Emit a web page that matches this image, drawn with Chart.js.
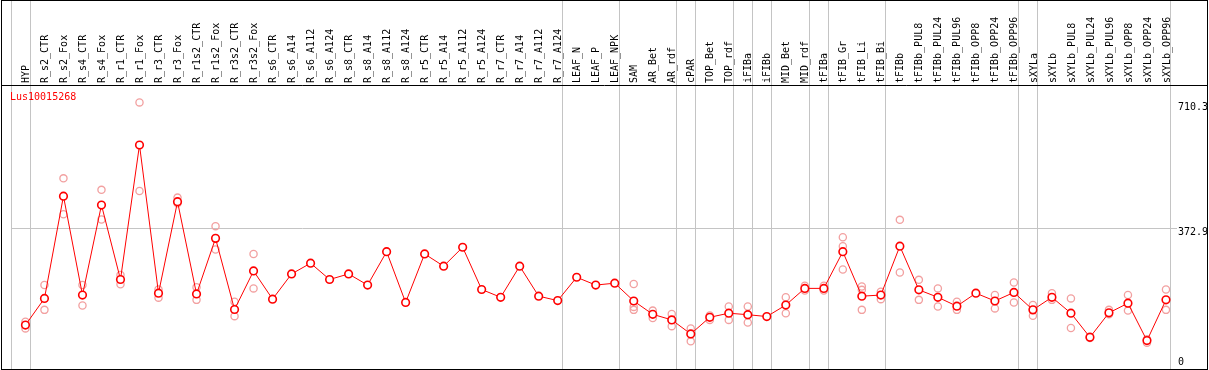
<!DOCTYPE html>
<html>
<head>
<meta charset="utf-8">
<script src="https://cdn.jsdelivr.net/npm/chart.js@4.4.1/dist/chart.umd.min.js"></script>
<style>
  html, body { margin: 0; padding: 0; background: #fff; }
  #chart { display: block; }
</style>
</head>
<body>
<canvas id="chart" width="1209" height="370"></canvas>
<script>
const geneName = 'Lus10015268';

const samples = [
    'HYP', 'R_s2_CTR', 'R_s2_Fox', 'R_s4_CTR', 'R_s4_Fox', 'R_r1_CTR', 'R_r1_Fox', 'R_r3_CTR', 'R_r3_Fox',
    'R_r1s2_CTR', 'R_r1s2_Fox', 'R_r3s2_CTR', 'R_r3s2_Fox', 'R_s6_CTR', 'R_s6_A14', 'R_s6_A112', 'R_s6_A124',
    'R_s8_CTR', 'R_s8_A14', 'R_s8_A112', 'R_s8_A124', 'R_r5_CTR', 'R_r5_A14', 'R_r5_A112', 'R_r5_A124',
    'R_r7_CTR', 'R_r7_A14', 'R_r7_A112', 'R_r7_A124', 'LEAF_N', 'LEAF_P', 'LEAF_NPK', 'SAM', 'AR_Bet', 'AR_rdf',
    'cPAR', 'TOP_Bet', 'TOP_rdf', 'iFIBa', 'iFIBb', 'MID_Bet', 'MID_rdf', 'tFIBa', 'tFIB_Gr', 'tFIB_Li', 'tFIB_Bi',
    'tFIBb', 'tFIBb_PUL8', 'tFIBb_PUL24', 'tFIBb_PUL96', 'tFIBb_OPP8', 'tFIBb_OPP24', 'tFIBb_OPP96',
    'sXYLa', 'sXYLb', 'sXYLb_PUL8', 'sXYLb_PUL24', 'sXYLb_PUL96', 'sXYLb_OPP8', 'sXYLb_OPP24', 'sXYLb_OPP96'
];

// mean expression per sample
const meanValues = [
    111, 183, 459, 192, 435, 234, 597, 197, 444, 195, 345, 153, 257, 181, 249, 278, 234,
    249, 219, 309, 172, 303, 270, 321, 207, 186, 270, 189, 177, 240, 219, 224, 176, 140, 125,
    87, 132, 143, 139, 134, 165, 210, 210, 309, 189, 192, 324, 206, 186, 162, 197, 176, 199,
    152, 186, 143, 78, 144, 170, 69, 179
];

// replicates (null = hidden behind the mean)
const repA = [
    120, 219, 507, 219, 476, 246, 712, 207, 455, 213, 378, 174, 303, null, null, null, null,
    null, null, null, null, null, null, null, null, null, null, null, null, null, null, null, 222, 150, 141,
    102, 137, 161, 161, null, 186, 217, 217, 348, 215, 201, 395, 233, 210, 174, null, 192, 226,
    165, 197, 183, 80, 152, 192, 73, 207
];
const repB = [
    102, 152, 410, 164, 396, 221, 473, 185, 440, 179, 315, 135, 210, null, null, null, null,
    null, null, null, null, null, null, null, null, null, null, null, null, null, null, null, 160, 130, 108,
    67, 125, 125, 118, null, 143, 204, 204, 324, 206, 181, 253, 179, 161, 152, null, 156, 172,
    136, 179, 103, 76, 140, 150, 63, 152
];
const repC = [
    null, null, null, null, null, null, null, null, null, null, null, null, null, null, null, null, null,
    null, null, null, null, null, null, null, null, null, null, null, null, null, null, null, 152, null, null,
    null, null, null, null, null, null, null, null, 261, 152, null, null, null, null, null, null, null, null,
    null, null, null, null, null, null, null, null
];

const yTicks = [0, 372.9, 710.3];
// grey separator drawn just after these sample indices
const groupEnds = [-1, 0, 28, 31, 34, 35, 37, 38, 39, 41, 42, 45, 52, 53, 60];

const monoFont = { family: '"DejaVu Sans Mono", monospace', size: 10 };
const sepValues = groupEnds.map(g => g + 0.24);

function toPoints(values) {
    return values.map((v, i) => ({ x: i, y: v }));
}

function repDataset(values) {
    return {
        data: toPoints(values),
        showLine: false,
        pointStyle: 'circle',
        pointRadius: 3.6,
        pointBorderWidth: 1.3,
        pointBorderColor: '#f2a0a0',
        pointBackgroundColor: 'rgba(0,0,0,0)',
        order: 2
    };
}

//frame, header line and gene name
const framePlugin = {
    id: 'frame',
    afterDraw(chart) {
        const ctx = chart.ctx;
        ctx.save();
        ctx.strokeStyle = '#000';
        ctx.lineWidth = 1;
        ctx.strokeRect(1.5, 0.5, 1206, 369);
        ctx.beginPath();
        ctx.moveTo(1, 85.5);
        ctx.lineTo(1208, 85.5);
        ctx.stroke();
        ctx.fillStyle = '#ff0000';
        ctx.font = '10px "DejaVu Sans Mono", monospace';
        ctx.textBaseline = 'middle';
        ctx.fillText(geneName, 10, 97.5);
        ctx.restore();
    }
};

new Chart(document.getElementById('chart'), {
    type: 'scatter',
    data: {
        datasets: [
            {
                data: toPoints(meanValues),
                showLine: true,
                borderColor: '#ff0000',
                borderWidth: 1,
                pointStyle: 'circle',
                pointRadius: 3.8,
                pointBorderWidth: 1.6,
                pointBorderColor: '#ff0000',
                pointBackgroundColor: '#ffffff',
                order: 0
            },
            repDataset(repA),
            repDataset(repB),
            repDataset(repC)
        ]
    },
    options: {
        responsive: false,
        animation: false,
        layout: { autoPadding: false, padding: { left: 11, right: 2, top: 0, bottom: 1 } },
        plugins: {
            legend: { display: false },
            tooltip: { enabled: false }
        },
        scales: {
            x: {
                type: 'linear',
                position: 'top',
                min: -0.76,
                max: 60.58,
                afterBuildTicks: axis => {
                    const vals = samples.map((s, i) => i).concat(sepValues).sort((a, b) => a - b);
                    axis.ticks = vals.map(v => ({ value: v }));
                },
                afterFit: axis => {
                    axis.height = 85;
                    axis.paddingLeft = 0;
                    axis.paddingRight = 0;
                },
                grid: {
                    color: ctx => (ctx.tick && !Number.isInteger(ctx.tick.value)) ? '#c4c4c4' : 'rgba(0,0,0,0)',
                    lineWidth: 1,
                    tickLength: 85
                },
                border: { display: false },
                ticks: {
                    autoSkip: false,
                    minRotation: 90,
                    maxRotation: 90,
                    padding: -83,
                    labelOffset: 13,
                    color: '#000',
                    font: monoFont,
                    callback: v => Number.isInteger(v) ? samples[v] : ''
                }
            },
            y: {
                type: 'linear',
                position: 'right',
                min: -7.6,
                max: 759,
                afterBuildTicks: axis => { axis.ticks = yTicks.map(v => ({ value: v })); },
                afterFit: axis => {
                    axis.width = 30;
                    axis.paddingTop = 0;
                    axis.paddingBottom = 0;
                },
                grid: {
                    color: ctx => ctx.index === 1 ? '#c4c4c4' : 'rgba(0,0,0,0)',
                    drawTicks: false
                },
                border: { display: false },
                ticks: {
                    padding: 1,
                    color: '#000',
                    font: { family: '"DejaVu Sans Mono", monospace', size: 10, lineHeight: 0.8 },
                    callback: v => v === 0 ? ['0', ''] : ['', String(v)]
                }
            }
        }
    },
    plugins: [framePlugin]
});
</script>
</body>
</html>
